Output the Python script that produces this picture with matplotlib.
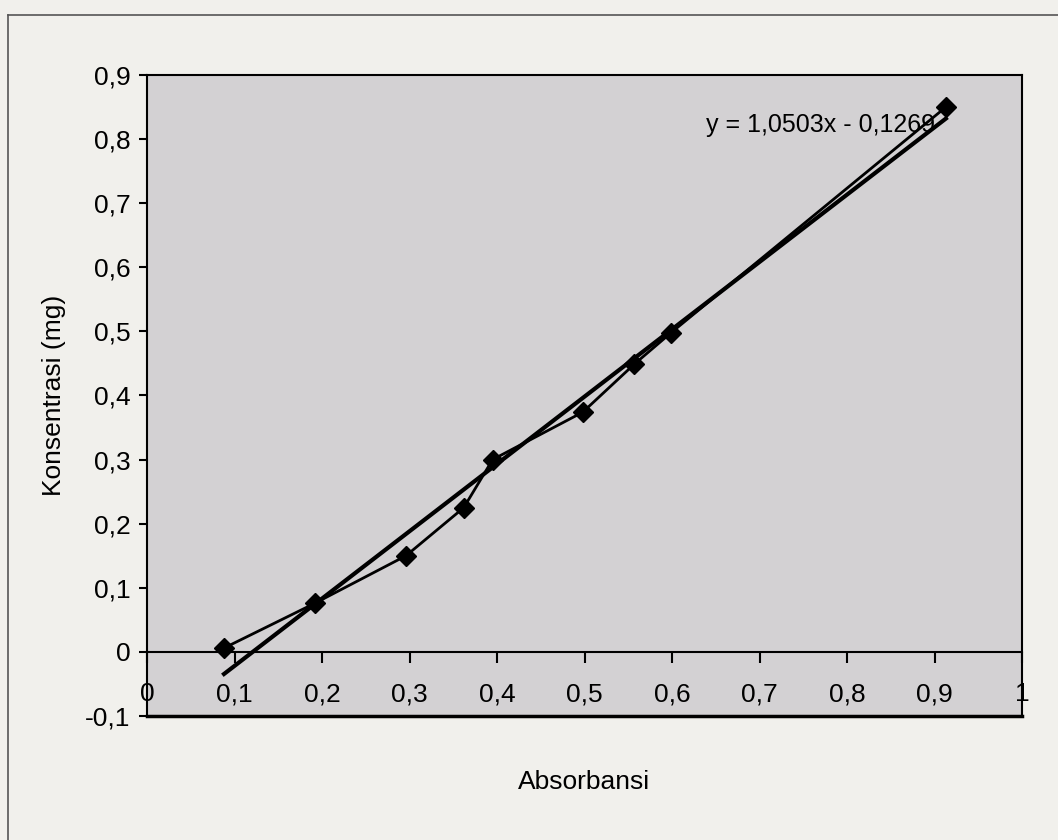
import matplotlib
matplotlib.use("Agg")
import matplotlib.pyplot as plt
from matplotlib.lines import Line2D
import numpy as np

plt.rcParams['font.family'] = ['Liberation Sans', 'DejaVu Sans']

# Data
absorbansi = [0.088, 0.192, 0.296, 0.362, 0.395, 0.498, 0.557, 0.599, 0.913]
konsentrasi = [0.006, 0.076, 0.150, 0.225, 0.300, 0.374, 0.449, 0.498, 0.850]
slope = 1.0503
intercept = -0.1269
x_ticks = [0, 0.1, 0.2, 0.3, 0.4, 0.5, 0.6, 0.7, 0.8, 0.9, 1.0]
x_tick_labels = ['0', '0,1', '0,2', '0,3', '0,4', '0,5', '0,6', '0,7', '0,8', '0,9', '1']
y_ticks = [-0.1, 0, 0.1, 0.2, 0.3, 0.4, 0.5, 0.6, 0.7, 0.8, 0.9]
y_tick_labels = ['-0,1', '0', '0,1', '0,2', '0,3', '0,4', '0,5', '0,6', '0,7', '0,8', '0,9']
eq_text = 'y = 1,0503x - 0,1269'

fig = plt.figure(figsize=(10.58, 8.4), dpi=100)
fig.patch.set_facecolor('#f1f0ec')
ax = fig.add_axes([147/1058, 1-716/840, 875/1058, 641/840])
ax.set_facecolor('#d3d1d3')

# connecting line with markers
ax.plot(absorbansi, konsentrasi, color='black', lw=2, marker='D', markersize=10, zorder=4)
# trendline
xt = np.array([min(absorbansi), max(absorbansi)])
ax.plot(xt, slope*xt + intercept, color='black', lw=3, zorder=3)

ax.set_xlim(0, 1)
ax.set_ylim(-0.1, 0.9)

ax.spines['bottom'].set_position(('data', 0))
for s in ['left', 'right', 'top', 'bottom']:
    ax.spines[s].set_linewidth(1.5)
    ax.spines[s].set_color('black')
# bottom frame of plot area
ax.axhline(-0.1, color='black', lw=2.5, zorder=5, clip_on=False)

ax.set_xticks(x_ticks)
ax.set_xticklabels(x_tick_labels)
ax.set_yticks(y_ticks)
ax.set_yticklabels(y_tick_labels)
ax.tick_params(axis='x', direction='out', length=8, width=1.5, pad=14, labelsize=19)
ax.tick_params(axis='y', direction='out', length=6, width=1.5, pad=6, labelsize=19)

ax.text(0.90, 0.822, eq_text, ha='right', va='center', fontsize=18)

ax.set_ylabel('Konsentrasi (mg)', fontsize=19, labelpad=14)
fig.text(584/1058, 1-782/840, 'Absorbansi', ha='center', va='center', fontsize=19)

# outer chart border
fig.add_artist(Line2D([8/1058, 1.0], [1-15/840, 1-15/840], transform=fig.transFigure, color='#555555', lw=1.2))
fig.add_artist(Line2D([8/1058, 8/1058], [0, 1-15/840], transform=fig.transFigure, color='#555555', lw=1.2))

fig.savefig('out.png', dpi=100, facecolor=fig.get_facecolor())
